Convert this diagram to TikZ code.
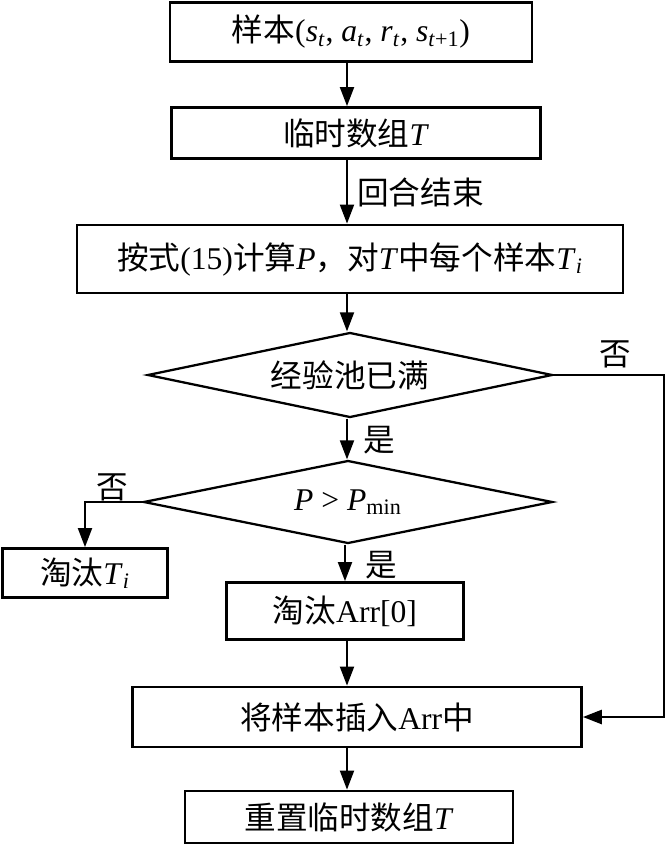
\documentclass[tikz,border=0pt]{standalone}
\usepackage{fontspec}
\setmainfont{Liberation Serif}
\newfontfamily\zhfont{Noto Sans CJK SC}
\newcommand{\zh}[1]{{\zhfont #1}}
\newcommand{\sub}[1]{\textsubscript{#1}}
\usetikzlibrary{shapes.geometric, arrows.meta}

\begin{document}
\begin{tikzpicture}[x=0.02cm, y=-0.02cm,
    box/.style={draw, line width=1.6pt, inner sep=0pt, font=\fontsize{18}{21}\selectfont},
    cond/.style={draw, diamond, aspect=4.8, line width=1.3pt, inner sep=0pt, font=\fontsize{18}{21}\selectfont},
    arr/.style={line width=1.1pt, -{Triangle[length=0.38cm, width=0.28cm]}},
    lbl/.style={inner sep=0pt, font=\fontsize{18}{21}\selectfont}]
\useasboundingbox (0,0) rectangle (665,846);
\coordinate (col) at (347,0);
\coordinate (rt) at (664,0);

% main column
\node[box, minimum width=7.24cm, minimum height=1.18cm] (sample) at (351,32)
    {\zh{样本}(\textit{s}\sub{\textit{t}}, \textit{a}\sub{\textit{t}}, \textit{r}\sub{\textit{t}}, \textit{s}\sub{\textit{t}+1})};
\node[box, minimum width=7.38cm, minimum height=1.02cm] (tmp) at (356,133) {\zh{临时数组}\textit{T}};
\node[box, minimum width=10.92cm, minimum height=1.36cm] (calc) at (350,259)
    {\zh{按式}(15)\zh{计算}\textit{P}\zh{，对}\textit{T}\zh{中每个样本}\textit{T}\sub{\textit{i}}};
\node[cond, minimum width=8.1cm, minimum height=1.7cm] (full) at (350,375) {\zh{经验池已满}};
\node[cond, minimum width=8.18cm, minimum height=1.66cm] (pmin) at (348,502)
    {\textit{P} > \textit{P}\sub{min}};
\node[box, minimum width=3.3cm, minimum height=0.98cm] (dropti) at (85,573) {\zh{淘汰}\textit{T}\sub{\textit{i}}};
\node[box, minimum width=4.74cm, minimum height=1.14cm] (droparr) at (345,611) {\zh{淘汰}Arr[0]};
\node[box, minimum width=8.98cm, minimum height=1.2cm] (insert) at (357,717) {\zh{将样本插入}Arr\zh{中}};
\node[box, minimum width=6.56cm, minimum height=1.04cm] (reset) at (349,817) {\zh{重置临时数组}\textit{T}};

% labels
\node[lbl, anchor=west] (endep) at (357,192) {\zh{回合结束}};
\node[lbl] (yes1) at (379,440) {\zh{是}};
\node[lbl] (no1) at (615,354) {\zh{否}};
\node[lbl] (no2) at (112,487) {\zh{否}};
\node[lbl] (yes2) at (381,565) {\zh{是}};

% connectors
\draw[arr] (sample.south -| col) -- (tmp.north -| col);
\draw[arr] (tmp.south -| col) -- (calc.north -| col);
\draw[arr] (calc.south -| col) -- (full.north -| col);
\draw[arr] (full.south -| col) -- (pmin.north -| col);
\draw[arr] (pmin.south -| droparr) -- (droparr.north);
\draw[arr] (pmin.west) -| (dropti.north);
\draw[arr] (droparr.south -| col) -- (insert.north -| col);
\draw[arr] (insert.south -| col) -- (reset.north -| col);
\draw[arr, line width=1.5pt] (full.east) -| (rt |- insert.east) -- (insert.east);
\end{tikzpicture}
\end{document}
